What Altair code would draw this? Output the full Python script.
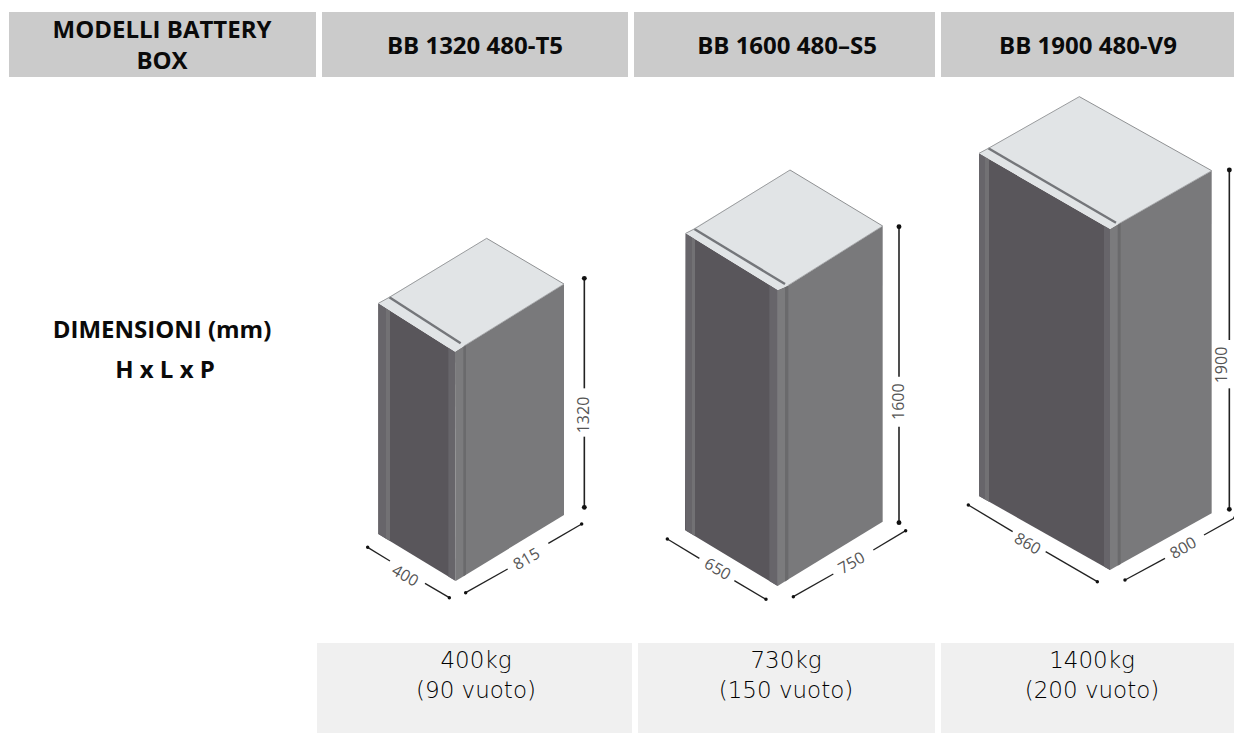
import altair as alt
import pandas as pd

# ---- picture coordinates (px) ----
cell_x = [9, 322, 634, 941]
cell_x2 = [316, 628, 935, 1234]
head_y = [12, 77]
foot_x = [317, 638, 941]
foot_x2 = [632, 935, 1234]
foot_y = [643, 733]

head_labels = ["BB 1320 480-T5", "BB 1600 480–S5", "BB 1900 480-V9"]
head_cx = [475, 787, 1088]
head_first = [("MODELLI BATTERY", 162, 31), ("BOX", 162, 62)]
left_labels = [("DIMENSIONI (mm)", 162, 331), ("H x L x P", 165, 371)]
foot_top = ["400kg", "730kg", "1400kg"]
foot_bot = ["(90 vuoto)", "(150 vuoto)", "(200 vuoto)"]
foot_cx = [476, 786, 1092]
foot_top_y = 661
foot_bot_y = 691

box_origin = [(340, 220), (640, 150), (950, 80)]
# zoom-space (3x) vertices of each cabinet
LT = [(115, 250), (137, 250), (87, 220)]
LS = [(148, 232), (163, 237), (115, 205)]
AP = [(440, 55), (450, 60), (388, 50)]
RT = [(672, 192), (728, 228), (785, 272)]
FT = [(372, 378), (443, 407), (505, 432)]
FS = [(345, 395), (413, 420), (480, 447)]
BL = [(115, 942), (135, 1140), (87, 1248)]
BF = [(347, 1083), (413, 1308), (480, 1470)]
BR = [(672, 885), (728, 1115), (785, 1300)]
GE = [(362, 370), (435, 402), (498, 428)]
band_a = [(138, 150), (155, 165), (105, 117)]
band_b = [(325, 345), (388, 413), (462, 480)]
band_c = [(370, 378), (435, 445), (503, 512)]

v_x = [733, 777, 838]
v_seg = [[(175, 505), (650, 862)], [(230, 680), (830, 1118)], [(270, 780), (925, 1288)]]
v_lab = [("1320", 733, 585), ("1600", 777, 755), ("1900", 817, 855)]
d_left = [[(83, 982, 150, 1023), (255, 1090, 328, 1133)],
          [(82, 1167, 178, 1225), (283, 1292, 378, 1348)],
          [(55, 1275, 188, 1355), (287, 1415, 442, 1505)]]
d_left_lab = [("400", 195, 1068), ("650", 232, 1258), ("860", 232, 1392)]
d_right = [[(377, 1118, 503, 1047), (625, 970, 725, 912)],
           [(460, 1340, 580, 1272), (700, 1200, 797, 1142)],
           [(525, 1500, 645, 1435), (762, 1365, 855, 1313)]]
d_right_lab = [("815", 560, 1018), ("750", 635, 1240), ("800", 700, 1405)]

C_TOP, C_LEFT, C_MID, C_LITE, C_FRONT, C_RIGHT = "#e1e4e6", "#59565b", "#67656a", "#727174", "#7b7b7d", "#79797b"
C_DARKBAND = "#6a6a6c"

X = alt.X("x:Q", scale=alt.Scale(domain=[8, 1234], range=[0, 1226]), axis=None)
Y = alt.Y("y:Q", scale=alt.Scale(domain=[8, 733], range=[0, 725]), axis=None)


def lerp(p, q, x):
    if q[0] == p[0]:
        return p[1]
    return p[1] + (q[1] - p[1]) * (x - p[0]) / (q[0] - p[0])


def poly_rows(pid, color, pts):
    xs = sorted({p[0] for p in pts})
    rows = []
    n = len(pts)
    for x in xs:
        ys = []
        for i in range(n):
            a, b = pts[i], pts[(i + 1) % n]
            if min(a[0], b[0]) <= x <= max(a[0], b[0]):
                if a[0] == b[0]:
                    ys += [a[1], b[1]]
                else:
                    ys.append(lerp(a, b, x))
        rows.append(dict(pid=pid, x=x, y=min(ys), y2=max(ys), c=color))
    return rows


polys = []
lines = []
dots = []
texts = []
pid = 0
for i, (ox, oy) in enumerate(box_origin):
    P = lambda p: (ox + p[0] / 3, oy + p[1] / 3)

    def add(color, pts):
        global pid
        polys.extend(poly_rows(pid, color, [P(p) for p in pts]))
        pid += 1

    def line(a, b, color, w):
        global pid
        pa, pb = P(a), P(b)
        lines.append(dict(pid=pid, x=pa[0], y=pa[1], c=color, w=w, o=0))
        lines.append(dict(pid=pid, x=pb[0], y=pb[1], c=color, w=w, o=1))
        pid += 1

    # faces
    add(C_RIGHT, [FT[i], RT[i], BR[i], (FT[i][0], lerp(BF[i], BR[i], FT[i][0]))])
    add(C_LEFT, [LT[i], FS[i], BF[i], BL[i]])

    def band(x0, x1, color):
        add(color, [(x0, lerp(LT[i], FS[i], x0)), (x1, lerp(LT[i], FS[i], x1)),
                    (x1, lerp(BL[i], BF[i], x1)), (x0, lerp(BL[i], BF[i], x0))])

    band(LT[i][0], band_a[i][0], C_MID)
    band(band_a[i][0], band_a[i][1], C_LITE)
    band(band_b[i][0], band_b[i][1], C_MID)
    # front pilaster
    add(C_FRONT, [FS[i], FT[i], (FT[i][0], lerp(BF[i], BR[i], FT[i][0])), BF[i]])
    c0, c1 = band_c[i]
    add(C_DARKBAND, [(c0, lerp(FT[i], RT[i], c0)), (c1, lerp(FT[i], RT[i], c1)),
                     (c1, lerp(BF[i], BR[i], c1)), (c0, lerp(BF[i], BR[i], c0))])
    # top
    add(C_TOP, [LT[i], AP[i], RT[i], FT[i], FS[i]])
    # edges & groove
    line(LS[i], GE[i], "#74767a", 2.4)
    line(LS[i], AP[i], "#9a9c9e", 1)
    line(LT[i], LS[i], "#9a9c9e", 1)
    line(AP[i], RT[i], "#8f9193", 1)
    line(FT[i], RT[i], "#9a9c9e", 0.8)

    # dimensions
    for s0, s1 in v_seg[i]:
        line((v_x[i], s0), (v_x[i], s1), "#222222", 1.6)
    for p in (v_seg[i][0][0], v_seg[i][1][1]):
        q = P((v_x[i], p))
        dots.append(dict(x=q[0], y=q[1], s=24))
    for seg in d_left[i] + d_right[i]:
        line(seg[:2], seg[2:], "#222222", 1.3)
    for ends in (d_left[i][0][:2], d_left[i][1][2:], d_right[i][0][:2], d_right[i][1][2:]):
        q = P(ends)
        dots.append(dict(x=q[0], y=q[1], s=12))
    q = P(v_lab[i][1:])
    texts.append(dict(t=v_lab[i][0], x=q[0], y=q[1], a=270))
    q = P(d_left_lab[i][1:])
    texts.append(dict(t=d_left_lab[i][0], x=q[0], y=q[1], a=30))
    q = P(d_right_lab[i][1:])
    texts.append(dict(t=d_right_lab[i][0], x=q[0], y=q[1], a=330))

head_df = pd.DataFrame(dict(x=cell_x, x2=cell_x2, y=[head_y[0]] * 4, y2=[head_y[1]] * 4))
foot_df = pd.DataFrame(dict(x=foot_x, x2=foot_x2, y=[foot_y[0]] * 3, y2=[foot_y[1]] * 3))


def rects(df, color):
    return alt.Chart(df).mark_rect(color=color).encode(x=X, x2="x2:Q", y=Y, y2="y2:Q")


bold_rows = [dict(t=t, x=x, y=y) for t, x, y in head_first + left_labels]
bold_rows += [dict(t=t, x=x, y=47) for t, x in zip(head_labels, head_cx)]
reg_rows = [dict(t=t, x=x, y=foot_top_y) for t, x in zip(foot_top, foot_cx)]
reg_rows += [dict(t=t, x=x, y=foot_bot_y) for t, x in zip(foot_bot, foot_cx)]

area_layer = alt.Chart(pd.DataFrame(polys)).mark_area(interpolate="linear").encode(
    x=X, y=Y, y2="y2:Q",
    fill=alt.Fill("c:N", scale=None),
    detail="pid:N",
)
line_layer = alt.Chart(pd.DataFrame(lines)).mark_line().encode(
    x=X, y=Y, detail="pid:N",
    color=alt.Color("c:N", scale=None),
    strokeWidth=alt.StrokeWidth("w:Q", scale=None),
    order=alt.Order("o:Q"),
)
dot_layer = alt.Chart(pd.DataFrame(dots)).mark_point(filled=True, color="#111111", opacity=1).encode(
    x=X, y=Y, size=alt.Size("s:Q", scale=None))
dim_text = alt.Chart(pd.DataFrame(texts)).mark_text(font="Open Sans", fontSize=16, color="#555555", align="center", baseline="middle").encode(
    x=X, y=Y, text="t:N", angle=alt.Angle("a:Q", scale=None))
bold_text = alt.Chart(pd.DataFrame(bold_rows)).mark_text(font="Open Sans", fontSize=24, fontWeight="bold", color="#0a0a0a", align="center", baseline="middle").encode(
    x=X, y=Y, text="t:N")
reg_text = alt.Chart(pd.DataFrame(reg_rows)).mark_text(font="DejaVu Sans", fontSize=23, fontWeight=200, color="#000000", align="center", baseline="middle").encode(
    x=X, y=Y, text="t:N")

chart = alt.layer(rects(head_df, "#cbcbcb"), rects(foot_df, "#f0f0f0"), area_layer, line_layer, dot_layer,
                  dim_text, bold_text, reg_text).properties(
    width=1226, height=725, padding=0, autosize=alt.AutoSizeParams(type="none"),
    background="white",
).configure_view(stroke=None)

chart.save("out.html", embed_options={"renderer": "svg", "actions": False})
